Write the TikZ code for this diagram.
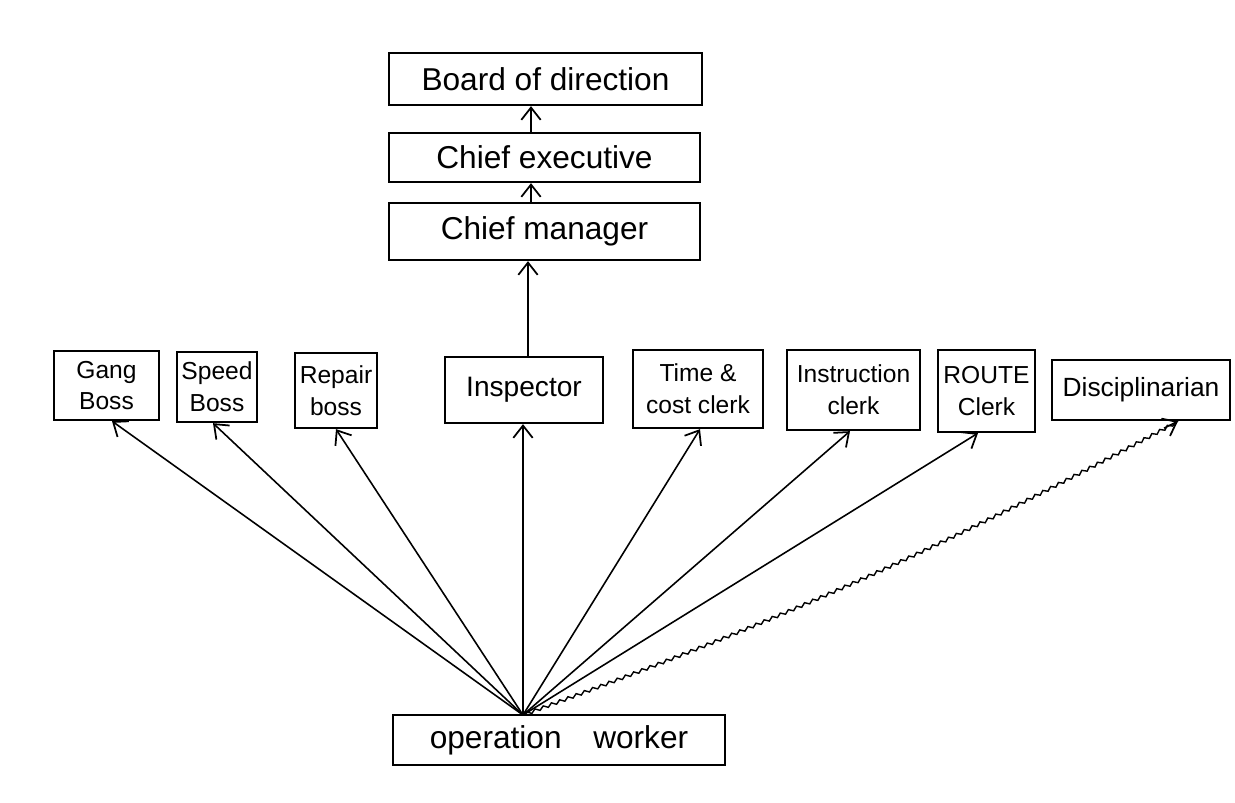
\documentclass[tikz,border=0pt]{standalone}
\usepackage{fontspec}
\setmainfont{Liberation Sans}
\usetikzlibrary{arrows.meta,decorations.pathmorphing,calc}
\begin{document}
\begin{tikzpicture}[x=0.02cm,y=-0.02cm,
  bigbox/.style={draw,line width=1.3pt,inner sep=2pt,align=center,font=\fontsize{18}{21}\selectfont},
  smallbox/.style={draw,line width=1.3pt,inner sep=1pt,align=center,font=\fontsize{14}{18}\selectfont},
  conn/.style={line width=0.9pt,-{Straight Barb[length=7pt,width=11pt,line width=1pt]}},
  wavy/.style={line width=0.8pt,decorate,decoration={snake,amplitude=0.9pt,segment length=5pt,pre length=1pt,post length=2pt}}]
\useasboundingbox[fill=white] (0,0) rectangle (1235,802);
% top chain
\node[bigbox,minimum width=6.26cm,minimum height=1.04cm] (board) at (545.5,79) {Board of direction};
\node[bigbox,minimum width=6.22cm,minimum height=0.98cm] (exec) at (544.5,157.5) {Chief executive};
\node[bigbox,minimum width=6.22cm,minimum height=1.14cm] (mgr) at (544.5,231.5) {Chief manager};
% middle row
\node[smallbox,minimum width=2.10cm,minimum height=1.38cm] (gang) at (106.5,385.5) {Gang\\Boss};
\node[smallbox,minimum width=1.60cm,minimum height=1.40cm] (speed) at (217,387) {Speed\\Boss};
\node[smallbox,minimum width=1.64cm,minimum height=1.50cm] (repair) at (336,390.5) {Repair\\boss};
\node[smallbox,minimum width=3.16cm,minimum height=1.32cm,font=\fontsize{16}{18}\selectfont] (insp) at (524,390) {Inspector};
\node[smallbox,minimum width=2.60cm,minimum height=1.56cm] (time) at (698,389) {Time \&\\cost clerk};
\node[smallbox,minimum width=2.66cm,minimum height=1.60cm] (instr) at (853.5,390) {Instruction\\clerk};
\node[smallbox,minimum width=1.94cm,minimum height=1.64cm] (route) at (986.5,391) {ROUTE\\Clerk};
\node[smallbox,minimum width=3.56cm,minimum height=1.20cm,font=\fontsize{15}{18}\selectfont] (disc) at (1141,390) {Disciplinarian};
% bottom
\node[bigbox,minimum width=6.64cm,minimum height=1.00cm] (ow) at (559,740) {operation\quad worker};
\coordinate (src) at (523,715);
% helper coordinates on borders
\coordinate (inspTop) at ($(insp.north)+(4,0)$);
\coordinate (mgrBot) at (inspTop |- mgr.south);
\coordinate (inspBot) at (src |- insp.south);
\coordinate (discEnd) at ($(disc.south)+(37,0)$);
\coordinate (discPre) at ($(disc.south)+(23,7)$);
% chain arrows
\draw[conn] ($(exec.north)+(-13.5,0)$) -- ($(board.south)+(-14.5,0)$);
\draw[conn] ($(mgr.north)+(-13.5,0)$) -- ($(exec.south)+(-13.5,0)$);
\draw[conn] (inspTop) -- (mgrBot);
% fan arrows
\draw[conn] (src) -- ($(gang.south)+(5.5,0)$);
\draw[conn] (src) -- ($(speed.south)+(-4,0)$);
\draw[conn] (src) -- (repair.south);
\draw[conn] (src) -- (inspBot);
\draw[conn] (src) -- ($(time.south)+(2,0)$);
\draw[conn] (src) -- ($(instr.south)+(-3.5,0)$);
\draw[conn] (src) -- ($(route.south)+(-8.5,0)$);
\draw[wavy] (src) to[bend right=4] (discEnd);
\draw[conn] (discPre) -- (discEnd);
\end{tikzpicture}
\end{document}
